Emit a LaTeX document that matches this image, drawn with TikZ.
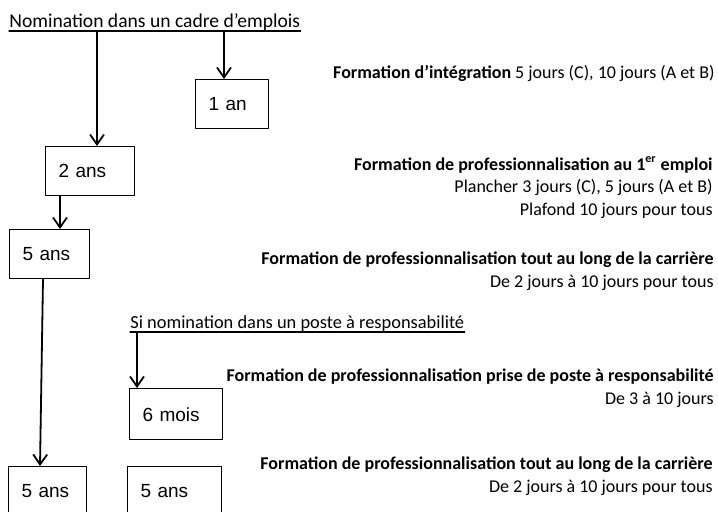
\documentclass[tikz,border=0pt]{standalone}
\usepackage{fontspec}
\setmainfont{Carlito}
\newfontfamily\arialfont{Liberation Sans}
\usetikzlibrary{arrows.meta}
\usetikzlibrary{calc}
\tikzset{
  box/.style={draw, line width=0.7pt, anchor=north west, inner xsep=6.5pt, inner ysep=0pt,
    text width=#1, minimum height=24.5pt, align=left, font=\arialfont\fontsize{9.5}{11}\selectfont},
  arr/.style={line width=0.9pt, -{Straight Barb[length=5pt,width=7pt,line width=0.9pt]}},
  titre/.style={anchor=base west, inner sep=0pt, font=\fontsize{9.8}{11}\selectfont},
  info/.style={anchor=base east, inner sep=0pt, align=right, font=\fontsize{9}{11.25}\selectfont},
  uline/.style={line width=0.6pt}
}

\begin{document}
\begin{tikzpicture}[line cap=round,line join=round, x=0.5pt,y=-0.5pt]
					\useasboundingbox (0,0) rectangle (718,511);
					% titres soulignes
					\node[titre] (nom) at (9,27) {Nomination dans un cadre d’emplois};
					\draw[uline] ([yshift=-2pt]nom.base west) coordinate (nomw) -- ([yshift=-2pt]nom.base east);
					\node[titre, font=\fontsize{9.2}{11}\selectfont] (resp) at (130,328) {Si nomination dans un poste à responsabilité};
					\draw[uline] ([yshift=-2pt]resp.base west) coordinate (respw) -- ([yshift=-2pt]resp.base east);
					% durees
					\node[box=23.3pt] (an1) at (195,79) {1 an};
					\node[box=31.3pt] (ans2) at (45,146) {2 ans};
					\node[box=26.8pt] (ans5) at (9,229) {5 ans};
					\node[box=33.3pt, minimum height=25.5pt] (mois6) at (129,388) {6 mois};
					\node[box=25.8pt, minimum height=24pt] (ans5g) at (8,466) {5 ans};
					\node[box=33.8pt, minimum height=24pt] (ans5d) at (127,466) {5 ans};
					% fleches
					\draw[arr] ($(nomw -| ans2.north)+(7,0)$) -- ($(ans2.north)+(7,0)$);
					\draw[arr] ($(nomw -| an1.north)+(-8,0)$) -- ($(an1.north)+(-8,0)$);
					\draw[arr] ($(ans2.south)+(-30,0)$) -- ($(ans5.north)+(10.5,0)$);
					\draw[arr] ($(ans5.south)+(-6.5,0)$) -- ($(ans5g.north)+(-7.5,0)$);
					\draw[arr] ($(respw -| mois6.north)+(-39,0)$) -- ($(mois6.north)+(-39,0)$);
					% formations (ancre sur la derniere ligne)
					\node[info] (integ) at (715,78) {\textbf{Formation d’intégration} 5 jours (C), 10 jours (A et B)};
					\node[info] (emploi) at (713,215) {\textbf{Formation de professionnalisation au 1\textsuperscript{er} emploi}\\Plancher 3 jours (C), 5 jours (A et B)\\Plafond 10 jours pour tous};
					\node[info] (carr1) at (714,287) {\textbf{Formation de professionnalisation tout au long de la carrière}\\De 2 jours à 10 jours pour tous};
					\node[info] (prise) at (714,404) {\textbf{Formation de professionnalisation prise de poste à responsabilité}\\De 3 à 10 jours};
					\node[info] (carr2) at (713,492) {\textbf{Formation de professionnalisation tout au long de la carrière}\\De 2 jours à 10 jours pour tous};
				\end{tikzpicture}
\end{document}
